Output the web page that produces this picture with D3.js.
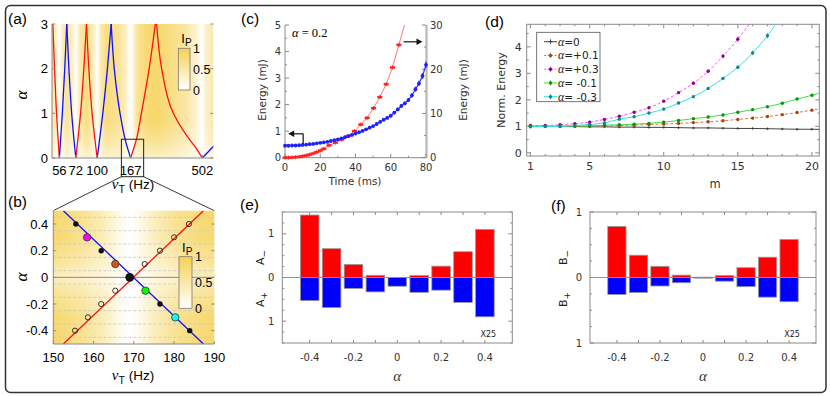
<!DOCTYPE html>
<html><head><meta charset="utf-8">
<script src="https://cdn.jsdelivr.net/npm/d3@7/dist/d3.min.js"></script>
<style>html,body{margin:0;padding:0;background:#fff;}svg{display:block;}</style>
</head><body>
<svg id="fig" width="830" height="396" xmlns="http://www.w3.org/2000/svg"></svg>
<script>
// ================= DATA =================
// (a)
const aXTicks = [56, 72, 100, 167, 502];
const aYTicks = [0, 1, 2, 3];
const aCbTicks = [0, 0.5, 1];
const aRedCurves = [
  [[56,0],[53.6,1],[52.0,2],[50.6,3]],
  [[72,0],[77.5,1],[81.5,2],[84.9,3]],
  [[100,0],[92.5,1],[88.0,2],[84.9,3]],
  [[167,0],[182,0.4],[197,1],[222,2],[244,3]],
  [[502,0],[461,0.2],[395,0.5],[322,1],[269,2],[249,3]]
];
const aBlueCurves = [
  [[56,0],[58.6,1],[60.8,2],[62.7,3]],
  [[72,0],[67.6,1],[64.8,2],[62.7,3]],
  [[100,0],[109,1],[117,2],[124,3]],
  [[167,0],[154,0.4],[142,1],[130,2],[124,3]],
  [[502,0],[610,0.3]]
];
const aHeatNu = [50,53,56,59,63,68,72,76,85,94,100,105,115,125,140,155,162,167,172,185,210,250,320,400,460,502,530,594];
const aHeatI  = [0.55,0.35,0,0.35,0.6,0.35,0,0.4,0.75,0.4,0,0.4,0.75,0.7,0.6,0.35,0.1,0,0.15,0.6,0.8,0.85,0.7,0.5,0.25,0,0.3,0.5];
const aVeilAlpha = [0, 0.35, 0.8];
const aVeilI = [0.62, 0.28, 0];
const aZoomNu = [145, 204];
const aZoomAlphaTop = 0.42;

// (b)
const bXTicks = [150, 160, 170, 180, 190];
const bYTicks = [-0.4, -0.2, 0, 0.2, 0.4];
const bGrid = [-0.45,-0.35,-0.25,-0.15,-0.05,0.05,0.15,0.25,0.35,0.45];
const bRedLine = [[152.5,-0.5],[187.3,0.5]];
const bBlueLine = [[152.5,0.5],[187.3,-0.5]];
const bBlueAlpha = [0.4,0.3,0.2,0.1,0,-0.1,-0.2,-0.3,-0.4];
const bBlueNu = [155.6,158.4,161.9,165.4,169.0,172.9,176.5,180.3,183.9];
const bBlueKind = ['dot','+0.3','dot','+0.1','0','-0.1','dot','-0.3','dot'];
const bRedAlpha = [0.4,0.3,0.2,0.1,-0.1,-0.2,-0.3,-0.4];
const bRedNu = [183.7,180.0,176.5,172.7,165.4,161.9,158.6,155.4];
const bHeatNu = [150,157,163,167,169,171,175,181,190];
const bHeatI  = [0.85,0.65,0.38,0.08,0,0.08,0.38,0.65,0.85];
const bVeilAlpha = [0, 0.1, 0.3];
const bVeilI = [0.55, 0.3, 0];

// (c)
const cXTicks = [0, 20, 40, 60, 80];
const cYLTicks = [0, 1, 2, 3, 4, 5];
const cYRTicks = [0, 10, 20, 30];
const cBlueT = [0,2,4,6,8,10,12,14,16,18,20,22,24,26,28,30,32,34,36,38,40,42,44,46,48,50,52,54,56,58,60,62,64,66,68,70,72,74,76,78,80];
const cBlueE = [0.45,0.45,0.46,0.46,0.47,0.48,0.49,0.51,0.52,0.54,0.56,0.58,0.60,0.63,0.66,0.69,0.73,0.77,0.81,0.86,0.91,0.96,1.01,1.07,1.13,1.19,1.27,1.35,1.43,1.50,1.58,1.70,1.82,1.95,2.05,2.17,2.35,2.58,2.80,3.08,3.50];
const cRedT = [0,2,4,6,8,10,12,14,16,18,20,22,25,28.6,32.2,35.8,39.4,43,46.6,50.2,53.8,57.4,61,64.6,68.2];
const cRedE = [0,0.02,0.06,0.12,0.2,0.35,0.5,0.7,0.95,1.25,1.6,2.0,2.8,3.4,4.1,4.9,6.0,7.5,9.0,11.2,13.7,16.6,20.4,25.5,30.5];

// (d)
const dXTicks = [1, 5, 10, 15, 20];
const dYTicks = [0, 1, 2, 3, 4];
const dM = [1,2,3,4,5,6,7,8,9,10,11,12,13,14,15,16,17,18,19,20,21];
const dA0  = [1.00,1.00,0.99,0.99,0.98,0.98,0.97,0.97,0.96,0.96,0.95,0.94,0.94,0.93,0.92,0.92,0.91,0.90,0.89,0.89,0.88];
const dP01 = [1.00,1.00,1.00,1.00,1.01,1.02,1.03,1.05,1.07,1.09,1.11,1.14,1.17,1.21,1.26,1.31,1.37,1.44,1.52,1.61,1.70];
const dP03 = [1.03,1.03,1.06,1.10,1.16,1.26,1.38,1.53,1.70,1.95,2.27,2.63,3.08,3.65,4.29,5.02,null,null,null,null,null];
const dM01 = [1.00,1.00,1.01,1.01,1.02,1.04,1.06,1.08,1.11,1.16,1.22,1.29,1.35,1.43,1.53,1.63,1.74,1.87,2.03,2.17,2.33];
const dM03 = [0.98,0.99,1.00,1.03,1.07,1.13,1.27,1.36,1.50,1.65,1.88,2.12,2.43,2.81,3.23,3.77,4.42,5.20,null,null,null];
const dNames = ['=0', '=+0.1', '=+0.3', '= -0.1', '= -0.3'];

// (e), (f)
const efAlpha = [-0.4,-0.3,-0.2,-0.1,0,0.1,0.2,0.3,0.4];
const efXTicks = [-0.4,-0.2,0,0.2,0.4];
const eAminus = [1.43,0.66,0.30,0.05,0,0.045,0.26,0.59,1.10];
const eAplus  = [0.53,0.69,0.25,0.33,0.20,0.34,0.29,0.57,0.90];
const fBminus = [0.78,0.34,0.17,0.036,0.005,0.03,0.15,0.31,0.58];
const fBplus  = [0.26,0.23,0.13,0.08,0.01,0.056,0.14,0.30,0.37];

// ================= DRAWING =================
const svg = d3.select('#fig');
const defs = svg.append('defs');
const SANS = '"Liberation Sans", Arial, sans-serif';
const DJ = '"DejaVu Sans", sans-serif';
const SERIF = '"Liberation Serif", "DejaVu Serif", serif';
const GOLD = '#f6d152';
const heatColor = d3.interpolateRgb('#ffffff', GOLD);
const AX = '#8a8a8a';

function clip(id,x,y,w,h){defs.append('clipPath').attr('id',id).append('rect').attr('x',x).attr('y',y).attr('width',w).attr('height',h);}
function ln(g,x1,y1,x2,y2,stroke,sw,dash){const l=g.append('line').attr('x1',x1).attr('y1',y1).attr('x2',x2).attr('y2',y2).attr('stroke',stroke).attr('stroke-width',sw||1);if(dash)l.attr('stroke-dasharray',dash);return l;}
function tx(g,x,y,str,size,fam,anchor,fill){return g.append('text').attr('x',x).attr('y',y).attr('text-anchor',anchor||'start').attr('font-family',fam||SANS).attr('font-size',size||12).attr('fill',fill||'#000').text(str);}
function hGrad(id,x0,x1,pos,vals){const g=defs.append('linearGradient').attr('id',id).attr('gradientUnits','userSpaceOnUse').attr('x1',x0).attr('x2',x1).attr('y1',0).attr('y2',0);pos.forEach((p,i)=>g.append('stop').attr('offset',Math.max(0,Math.min(1,(p-x0)/(x1-x0)))).attr('stop-color',heatColor(vals[i])));}
function veil(id,yc,top,bottom,poss,ops,sym){const g=defs.append('linearGradient').attr('id',id).attr('gradientUnits','userSpaceOnUse').attr('x1',0).attr('x2',0).attr('y1',top).attr('y2',bottom);
  const stops=[];poss.forEach((p,i)=>{stops.push([p,ops[i]]);if(sym)stops.push([2*yc-p,ops[i]]);});
  stops.map(s=>[Math.max(0,Math.min(1,(s[0]-top)/(bottom-top))),s[1]]).sort((a,b)=>a[0]-b[0])
    .forEach(s=>g.append('stop').attr('offset',s[0]).attr('stop-color','#fff').attr('stop-opacity',s[1]));}
function cbar(g,x,y,w,h,id,labels){
  const gr=defs.append('linearGradient').attr('id',id).attr('x1',0).attr('x2',0).attr('y1',1).attr('y2',0);
  gr.append('stop').attr('offset',0).attr('stop-color',heatColor(0));
  gr.append('stop').attr('offset',1).attr('stop-color',heatColor(1));
  g.append('rect').attr('x',x).attr('y',y).attr('width',w).attr('height',h).attr('fill',`url(#${id})`).attr('stroke','#777').attr('stroke-width',0.8);
  labels.forEach(v=>tx(g,x+w+3,y+h-v*h+4.5,String(v),12.5,SANS));
  const t=g.append('text').attr('x',x+3).attr('y',y-5).attr('font-family',SANS).attr('font-size',13);
  t.append('tspan').text('I');t.append('tspan').attr('dy',3).attr('font-size',10).text('P');
}
function nuLabel(g,x,y){const t=g.append('text').attr('x',x).attr('y',y).attr('text-anchor','middle').attr('font-family',SANS).attr('font-size',13.5);
  t.append('tspan').attr('font-style','italic').attr('font-family',SERIF).attr('font-size',15).text('ν');
  t.append('tspan').attr('dy',4).attr('font-size',10.5).text('T');
  t.append('tspan').attr('dy',-4).text(' (Hz)');}
function alphaRot(g,x,y,size){g.append('text').attr('transform',`translate(${x},${y}) rotate(-90)`).attr('text-anchor','middle').attr('font-family',SERIF).attr('font-style','italic').attr('font-size',size).text('α');}

// outer frame
svg.append('rect').attr('x',5.5).attr('y',5.5).attr('width',820.5).attr('height',387).attr('rx',5).attr('fill','none').attr('stroke','#333').attr('stroke-width',1.5);

// ---------- (a) ----------
const A={x0:52,x1:213.3,y0:24,y1:158};
const ax=d3.scaleLog().domain([50,594]).range([A.x0,A.x1]);
const ay=d3.scaleLinear().domain([0,3]).range([A.y1,A.y0]);
const gA=svg.append('g');
hGrad('heatA',A.x0,A.x1,aHeatNu.map(ax),aHeatI);
veil('veilA',A.y1,A.y0,A.y1,aVeilAlpha.map(ay),aVeilI,false);
gA.append('rect').attr('x',A.x0).attr('y',A.y0).attr('width',A.x1-A.x0).attr('height',A.y1-A.y0).attr('fill','url(#heatA)');
gA.append('rect').attr('x',A.x0).attr('y',A.y0).attr('width',A.x1-A.x0).attr('height',A.y1-A.y0).attr('fill','url(#veilA)');
clip('clipA',A.x0,A.y0,A.x1-A.x0,A.y1-A.y0);
const lineA=d3.line().x(d=>ax(d[0])).y(d=>ay(d[1])).curve(d3.curveMonotoneY);
const gAc=gA.append('g').attr('clip-path','url(#clipA)');
aRedCurves.forEach(c=>gAc.append('path').attr('d',lineA(c)).attr('fill','none').attr('stroke','#ff1010').attr('stroke-width',1.3));
aBlueCurves.forEach(c=>gAc.append('path').attr('d',lineA(c)).attr('fill','none').attr('stroke','#1010ff').attr('stroke-width',1.3));
ln(gA,A.x0,A.y0,A.x0,A.y1,AX,1);
ln(gA,A.x0,A.y1,A.x1,A.y1,AX,1);
aYTicks.forEach(v=>{ln(gA,A.x0,ay(v),A.x0+3,ay(v),AX,1);ln(gA,A.x1-3,ay(v),A.x1,ay(v),AX,1);tx(gA,A.x0-4,ay(v)+4.5,String(v),13,SANS,'end');});
aXTicks.forEach(v=>{ln(gA,ax(v),A.y1,ax(v),A.y1-3,AX,1);tx(gA,ax(v),A.y1+17,String(v),13,SANS,'middle');});
alphaRot(gA,27,95,17);
nuLabel(gA,133,189);
cbar(gA,178.3,48.3,11.7,41.7,'cbA',aCbTicks);
tx(gA,8,24,'(a)',15.5,SANS);
const zb={x0:ax(aZoomNu[0]),x1:ax(aZoomNu[1]),y0:ay(aZoomAlphaTop),y1:A.y1+18.7};
gA.append('rect').attr('x',zb.x0).attr('y',zb.y0).attr('width',zb.x1-zb.x0).attr('height',zb.y1-zb.y0).attr('fill','none').attr('stroke','#222').attr('stroke-width',1);

// ---------- (b) ----------
const B={x0:53.3,x1:214.3,y0:210.7,y1:344};
const bx=d3.scaleLinear().domain([150,190]).range([B.x0,B.x1]);
const by=d3.scaleLinear().domain([-0.5,0.5]).range([B.y1,B.y0]);
ln(gA,zb.x0,zb.y1,B.x0,B.y0,'#222',0.9);
ln(gA,zb.x1,zb.y1,B.x1,B.y0,'#222',0.9);
const gB=svg.append('g');
hGrad('heatB',B.x0,B.x1,bHeatNu.map(bx),bHeatI);
veil('veilB',by(0),B.y0,B.y1,bVeilAlpha.map(by),bVeilI,true);
gB.append('rect').attr('x',B.x0).attr('y',B.y0).attr('width',B.x1-B.x0).attr('height',B.y1-B.y0).attr('fill','url(#heatB)');
gB.append('rect').attr('x',B.x0).attr('y',B.y0).attr('width',B.x1-B.x0).attr('height',B.y1-B.y0).attr('fill','url(#veilB)');
bGrid.forEach(v=>ln(gB,B.x0,by(v),B.x1,by(v),'#c8c8c8',0.8,'3,2'));
ln(gB,B.x0,by(0),B.x1,by(0),'#888',1);
clip('clipB',B.x0,B.y0,B.x1-B.x0,B.y1-B.y0);
const gBc=gB.append('g').attr('clip-path','url(#clipB)');
const lineB=d3.line().x(d=>bx(d[0])).y(d=>by(d[1]));
gBc.append('path').attr('d',lineB(bRedLine)).attr('stroke','#ff1010').attr('stroke-width',1.3).attr('fill','none');
gBc.append('path').attr('d',lineB(bBlueLine)).attr('stroke','#1010ff').attr('stroke-width',1.3).attr('fill','none');
bRedAlpha.forEach((a,i)=>gBc.append('circle').attr('cx',bx(bRedNu[i])).attr('cy',by(a)).attr('r',2.6).attr('fill','none').attr('stroke','#222').attr('stroke-width',0.9));
const bStyle={'dot':{r:2.7,f:'#111',s:'none'},'+0.3':{r:3.7,f:'#ff00ff',s:'#333'},'+0.1':{r:3.7,f:'#d95319',s:'#333'},'0':{r:4.4,f:'#111',s:'none'},'-0.1':{r:3.7,f:'#00ff00',s:'#333'},'-0.3':{r:3.7,f:'#00ffff',s:'#333'}};
bBlueAlpha.forEach((a,i)=>{const st=bStyle[bBlueKind[i]];gBc.append('circle').attr('cx',bx(bBlueNu[i])).attr('cy',by(a)).attr('r',st.r).attr('fill',st.f).attr('stroke',st.s).attr('stroke-width',0.8);});
ln(gB,B.x0,B.y0,B.x0,B.y1,AX,1);
ln(gB,B.x0,B.y1,B.x1,B.y1,AX,1);
bYTicks.forEach(v=>{ln(gB,B.x0,by(v),B.x0+3,by(v),AX,1);ln(gB,B.x1-3,by(v),B.x1,by(v),AX,1);tx(gB,B.x0-5,by(v)+4.5,String(v),13,SANS,'end');});
bXTicks.forEach(v=>{ln(gB,bx(v),B.y1,bx(v),B.y1-3,AX,1);tx(gB,bx(v),B.y1+17.5,String(v),13,SANS,'middle');});
alphaRot(gB,27,277,17);
nuLabel(gB,133,380);
cbar(gB,179,256.7,13,51.6,'cbB',aCbTicks);
tx(gB,8,207,'(b)',15.5,SANS);

// ---------- (c) ----------
const C={x0:285,x1:426,y0:25,y1:157.7};
const cx=d3.scaleLinear().domain([0,80]).range([C.x0,C.x1]);
const cyL=d3.scaleLinear().domain([0,5]).range([C.y1,C.y0]);
const cyR=d3.scaleLinear().domain([0,30]).range([C.y1,C.y0]);
const gC=svg.append('g');
clip('clipC',C.x0-3,C.y0,C.x1-C.x0+6,C.y1-C.y0+3);
ln(gC,C.x0,C.y0,C.x0,C.y1,AX,1);
ln(gC,C.x0,C.y1,C.x1,C.y1,AX,1);
ln(gC,C.x1+0.5,C.y0,C.x1+0.5,C.y1,'#b8b8b8',2.2);
d3.range(0,5.01,0.5).forEach(v=>ln(gC,C.x0,cyL(v),C.x0+(v%1===0?4:2),cyL(v),AX,1));
d3.range(0,30.1,5).forEach(v=>ln(gC,C.x1-(v%10===0?4:2),cyR(v),C.x1,cyR(v),AX,1));
d3.range(0,80.1,10).forEach(v=>ln(gC,cx(v),C.y1,cx(v),C.y1-(v%20===0?4:2),AX,1));
cYLTicks.forEach(v=>tx(gC,C.x0-4,cyL(v)+3.5,String(v),10,DJ,'end','#333'));
cYRTicks.forEach(v=>tx(gC,C.x1+4,cyR(v)+3.5,String(v),10,DJ,'start','#333'));
cXTicks.forEach(v=>tx(gC,cx(v),C.y1+13,String(v),10,DJ,'middle','#333'));
tx(gC,355,185,'Time (ms)',10.5,DJ,'middle','#333');
gC.append('text').attr('transform','translate(266,90) rotate(-90)').attr('text-anchor','middle').attr('font-family',DJ).attr('font-size',10.5).attr('fill','#333').text('Energy (mJ)');
gC.append('text').attr('transform','translate(467,90) rotate(-90)').attr('text-anchor','middle').attr('font-family',DJ).attr('font-size',10.5).attr('fill','#333').text('Energy (mJ)');
const gCc=gC.append('g').attr('clip-path','url(#clipC)');
const redPts=cRedT.map((t,i)=>[t,cRedE[i]]);
gCc.append('path').attr('d',d3.line().x(d=>cx(d[0])).y(d=>cyR(d[1]))(redPts)).attr('fill','none').attr('stroke','#ff5050').attr('stroke-width',0.8);
redPts.forEach(p=>{gCc.append('rect').attr('x',cx(p[0])-2.5).attr('y',cyR(p[1])-1.2).attr('width',5).attr('height',2.4).attr('fill','#ff2020');ln(gCc,cx(p[0]),cyR(p[1])-2,cx(p[0]),cyR(p[1])+2,'#ff2020',1);});
const bluePts=cBlueT.map((t,i)=>[t,cBlueE[i]]);
gCc.append('path').attr('d',d3.line().x(d=>cx(d[0])).y(d=>cyL(d[1]))(bluePts)).attr('fill','none').attr('stroke','#3030ff').attr('stroke-width',1.2);
bluePts.forEach(p=>{gCc.append('circle').attr('cx',cx(p[0])).attr('cy',cyL(p[1])).attr('r',1.9).attr('fill','#2020ff');ln(gCc,cx(p[0]),cyL(p[1]*1.035),cx(p[0]),cyL(p[1]*0.965),'#2020ff',1.2);});
const ta=gC.append('text').attr('x',292).attr('y',37).attr('font-family',SERIF).attr('font-size',12.5);
ta.append('tspan').attr('font-style','italic').text('α');ta.append('tspan').text(' = 0.2');
function arrowHead(g,x,y,dir){g.append('path').attr('d',`M${x},${y} L${x-dir*6},${y-3.2} L${x-dir*6},${y+3.2} Z`).attr('fill','#111');}
ln(gC,cx(10.3),cyL(0.9),cx(1.8)+4,cyL(0.9),'#111',1.2);
ln(gC,cx(10.3),cyL(0.9),cx(10.3),cyL(0.52),'#111',1.2);
arrowHead(gC,cx(1.8),cyL(0.9),-1);
ln(gC,cx(67.3),cyR(26.2),cx(78)-4,cyR(26.2),'#111',1.2);
arrowHead(gC,cx(78),cyR(26.2),1);
tx(gC,241,24,'(c)',15.5,SANS);

// ---------- (d) ----------
const D={x0:526.7,x1:819.3,y0:24.3,y1:156};
const dx=d3.scaleLinear().domain([0.75,20.5]).range([D.x0,D.x1]);
const dy=d3.scaleLinear().domain([-0.12,4.85]).range([D.y1,D.y0]);
const gD=svg.append('g');
gD.append('rect').attr('x',D.x0).attr('y',D.y0).attr('width',D.x1-D.x0).attr('height',D.y1-D.y0).attr('fill','none').attr('stroke',AX).attr('stroke-width',1);
d3.range(1,21).forEach(v=>{const L=(v===1||v%5===0)?4:2;ln(gD,dx(v),D.y1,dx(v),D.y1-L,AX,1);ln(gD,dx(v),D.y0,dx(v),D.y0+L,AX,1);});
d3.range(0,4.8,0.5).forEach(v=>{const L=(v%1===0)?4:2;ln(gD,D.x0,dy(v),D.x0+L,dy(v),AX,1);ln(gD,D.x1-L,dy(v),D.x1,dy(v),AX,1);});
dXTicks.forEach(v=>tx(gD,dx(v),D.y1+13.5,String(v),11,DJ,'middle','#333'));
dYTicks.forEach(v=>tx(gD,D.x0-5,dy(v)+4,String(v),11,DJ,'end','#333'));
tx(gD,715,188,'m',11.5,DJ,'middle','#333');
gD.append('text').attr('transform','translate(505,90) rotate(-90)').attr('text-anchor','middle').attr('font-family',DJ).attr('font-size',11).attr('fill','#333').text('Norm. Energy');
clip('clipD',D.x0,D.y0,D.x1-D.x0,D.y1-D.y0);
const gDc=gD.append('g').attr('clip-path','url(#clipD)');
const dSeries=[
  {v:dA0,line:'#444',dot:'#333',dash:null,mk:'plus'},
  {v:dP01,line:'#e07040',dot:'#b04010',dash:'3,2',mk:'dot'},
  {v:dP03,line:'#ff50ff',dot:'#900090',dash:'3,2',mk:'dot'},
  {v:dM01,line:'#40e040',dot:'#109010',dash:null,mk:'dot'},
  {v:dM03,line:'#30e0e8',dot:'#108888',dash:null,mk:'dot'}
];
dSeries.forEach(s=>{
  const pts=dM.map((m,i)=>[m,s.v[i]]).filter(p=>p[1]!==null);
  const p=gDc.append('path').attr('d',d3.line().x(d=>dx(d[0])).y(d=>dy(d[1])).curve(d3.curveMonotoneX)(pts)).attr('fill','none').attr('stroke',s.line).attr('stroke-width',1);
  if(s.dash)p.attr('stroke-dasharray',s.dash);
  pts.forEach(q=>{const X=dx(q[0]),Y=dy(q[1]),e=Math.max(1.3,q[1]*0.6);
    ln(gDc,X,Y-e,X,Y+e,s.dot,0.8);
    if(s.mk==='plus'){ln(gDc,X-1.5,Y,X+1.5,Y,s.dot,0.8);}
    else gDc.append('circle').attr('cx',X).attr('cy',Y).attr('r',1.7).attr('fill',s.dot);});
});
const lg=gD.append('g');
lg.append('rect').attr('x',536.7).attr('y',32.3).attr('width',63.3).attr('height',69.4).attr('fill','#fff').attr('stroke','#555').attr('stroke-width',0.8);
dNames.forEach((nm,i)=>{const s=dSeries[i];const Y=41.7+i*13.75;
  const l=ln(lg,544,Y,557,Y,s.line,1);if(s.dash)l.attr('stroke-dasharray','2,1.5');
  ln(lg,550.5,Y-2.5,550.5,Y+2.5,s.dot,0.8);
  if(s.mk==='plus')ln(lg,548.5,Y,552.5,Y,s.dot,0.8);else lg.append('circle').attr('cx',550.5).attr('cy',Y).attr('r',1.7).attr('fill',s.dot);
  const t=lg.append('text').attr('x',558).attr('y',Y+4).attr('font-family',DJ).attr('font-size',10.5).attr('fill','#222');
  t.append('tspan').attr('font-family',SERIF).attr('font-style','italic').attr('font-size',12).text('α');
  t.append('tspan').text(nm);});
tx(gD,485,27,'(d)',15.5,SANS);

// ---------- (e), (f) ----------
function barPanel(P,yMax,up,down,yTicks,upLab,downLab,labX,lab,labPos){
  const x=d3.scaleLinear().domain([-0.525,0.525]).range([P.x0,P.x1]);
  const y=d3.scaleLinear().domain([-yMax,yMax]).range([P.y1,P.y0]);
  const g=svg.append('g');
  const w=x(0.0425)-x(-0.0425);
  efAlpha.forEach((a,i)=>{
    g.append('rect').attr('x',x(a)-w/2).attr('y',y(up[i])).attr('width',w).attr('height',y(0)-y(up[i])).attr('fill','#ff0000').attr('stroke','#999').attr('stroke-width',0.8);
    g.append('rect').attr('x',x(a)-w/2).attr('y',y(0)).attr('width',w).attr('height',y(-down[i])-y(0)).attr('fill','#0000ff').attr('stroke','#999').attr('stroke-width',0.8);
  });
  ln(g,P.x0,y(0),P.x1,y(0),'#888',0.9);
  g.append('rect').attr('x',P.x0).attr('y',P.y0).attr('width',P.x1-P.x0).attr('height',P.y1-P.y0).attr('fill','none').attr('stroke',AX).attr('stroke-width',1);
  efAlpha.forEach(a=>{ln(g,x(a),P.y1,x(a),P.y1-3,AX,1);ln(g,x(a),P.y0,x(a),P.y0+3,AX,1);});
  d3.range(-yMax,yMax+0.001,0.25).forEach(v=>{const L=(Math.abs(v%1)<1e-6)?4:2;ln(g,P.x0,y(v),P.x0+L,y(v),AX,1);ln(g,P.x1-L,y(v),P.x1,y(v),AX,1);});
  yTicks.forEach(v=>tx(g,P.x0-8,y(v)+3.5,String(Math.abs(v)),10,DJ,'end','#333'));
  efXTicks.forEach(v=>tx(g,x(v),361,String(v),10,DJ,'middle','#333'));
  g.append('text').attr('x',(P.x0+P.x1)/2).attr('y',381).attr('text-anchor','middle').attr('font-family',SERIF).attr('font-style','italic').attr('font-size',15).attr('fill','#333').text('α');
  tx(g,P.x1-24,337,'X25',8,DJ,'middle','#222');
  function rl(cy,main,sub){const t=g.append('text').attr('transform',`translate(${labX},${cy}) rotate(-90)`).attr('text-anchor','middle').attr('font-family',DJ).attr('font-size',11).attr('fill','#222');t.append('tspan').text(main);t.append('tspan').attr('dy',3).attr('font-size',9).text(sub);}
  rl(y(0)-20,upLab[0],upLab[1]);
  rl(y(0)+22,downLab[0],downLab[1]);
  tx(g,labPos[0],labPos[1],lab,15.5,SANS);
}
barPanel({x0:282.3,x1:512.3,y0:212,y1:343},1.5,eAminus,eAplus,[1,0,-1],['A','\u2212'],['A','+'],264,'(e)',[240,210]);
barPanel({x0:590,x1:816,y0:212,y1:343},1,fBminus,fBplus,[1,0,-1],['B','\u2212'],['B','+'],567,'(f)',[551,211]);
</script>
</body></html>
